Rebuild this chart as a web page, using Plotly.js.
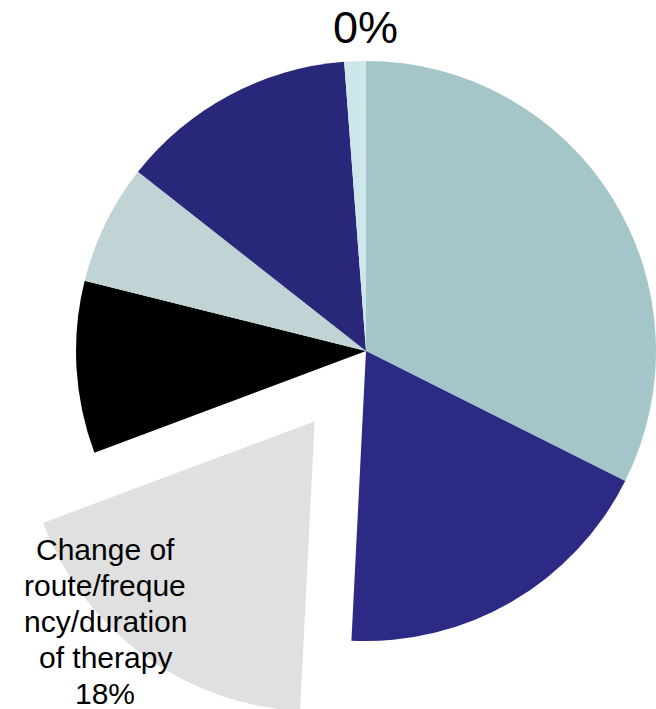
<!DOCTYPE html>
<html>
<head>
<meta charset="utf-8">
<script src="https://cdn.plot.ly/plotly-3.0.1.min.js"></script>
<style>
  html, body { margin: 0; padding: 0; width: 656px; height: 709px; overflow: hidden; background: #ffffff; }
  #chart { position: absolute; left: -11px; top: -26px; width: 754px; height: 754px; }
</style>
</head>
<body>
<div id="chart"></div>
<script>
// Slice categories (clockwise from 12 o'clock)
var categories = [
  "Category A",
  "Category B",
  "Change of route/frequency/duration of therapy",
  "Category D",
  "Category E",
  "Category F",
  "Category G"
];
// Slice values (percent of total)
var values = [32.4, 18.4, 18.5, 9.6, 6.7, 13.2, 1.2];
// Slice colours
var colors = ["#A5C6C9", "#2D2A85", "#E0E0E0", "#000000", "#C0D4D6", "#282779", "#CDE6EA"];
// Pull of each slice (fraction of radius)
var pulls = [0, 0, 0.3, 0, 0, 0, 0];
// Visible data label of the thin slice at the top
var topLabel = "0%";
// Wrapped label of the exploded slice
var explodedLabelLines = ["Change of", "route/freque", "ncy/duration", "of therapy", "18%"];

var W = 754, H = 754, offX = 11, offY = 26;
function px(x) { return (x + offX) / W; }
function py(y) { return 1 - (y + offY) / H; }

var trace = {
  type: "pie",
  labels: categories,
  values: values,
  sort: false,
  direction: "clockwise",
  rotation: 0,
  pull: pulls,
  textinfo: "none",
  marker: { colors: colors, line: { width: 0 } },
  automargin: false,
  showlegend: false,
  hoverinfo: "label+percent",
  domain: { x: [0, 1], y: [0, 1] }
};

var fontFam = "Liberation Sans, Arial, sans-serif";
var annotations = [{
  xref: "paper", yref: "paper",
  x: px(365.5), y: py(28),
  xanchor: "center", yanchor: "middle",
  showarrow: false,
  text: topLabel,
  font: { family: fontFam, size: 45, color: "#000000" }
}];

var lineSpacing = 36.2, firstCenter = 549;
explodedLabelLines.forEach(function (t, i) {
  annotations.push({
    xref: "paper", yref: "paper",
    x: px(105), y: py(firstCenter + i * lineSpacing),
    xanchor: "center", yanchor: "middle",
    showarrow: false,
    text: t,
    font: { family: fontFam, size: 30, color: "#000000" }
  });
});

var layout = {
  width: W,
  height: H,
  margin: { l: 0, r: 0, t: 0, b: 0, pad: 0 },
  paper_bgcolor: "rgba(0,0,0,0)",
  plot_bgcolor: "rgba(0,0,0,0)",
  showlegend: false,
  annotations: annotations
};

Plotly.newPlot("chart", [trace], layout, { displayModeBar: false, staticPlot: true });
</script>
</body>
</html>
